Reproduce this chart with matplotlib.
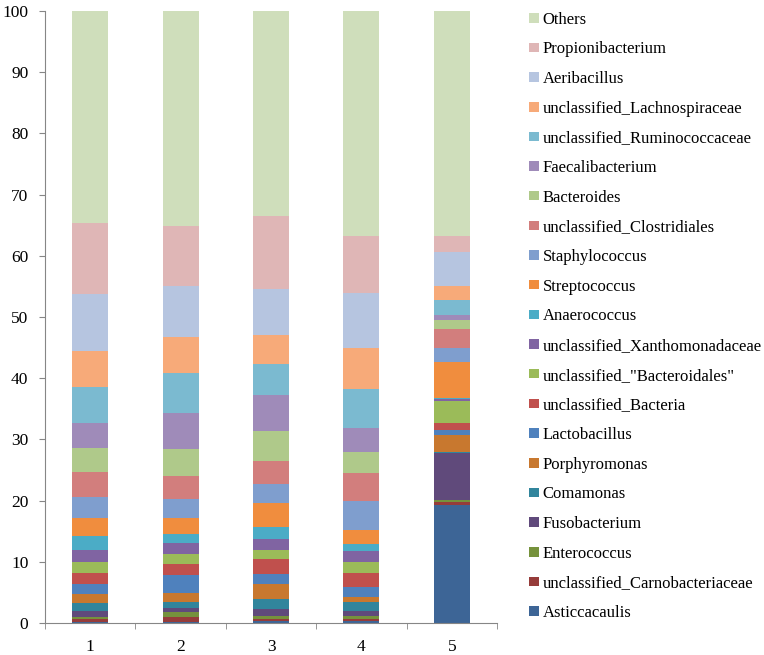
import numpy as np
import matplotlib
matplotlib.use("Agg")
import matplotlib.pyplot as plt

plt.rcParams['font.family'] = ['Liberation Serif', 'DejaVu Serif']

# サンプル
samples = ["1", "2", "3", "4", "5"]

# 分類群（下から順に積み上げ）
taxa = [
    "Asticcacaulis", "unclassified_Carnobacteriaceae", "Enterococcus",
    "Fusobacterium", "Comamonas", "Porphyromonas", "Lactobacillus",
    "unclassified_Bacteria", 'unclassified_"Bacteroidales"',
    "unclassified_Xanthomonadaceae", "Anaerococcus", "Streptococcus",
    "Staphylococcus", "unclassified_Clostridiales", "Bacteroides",
    "Faecalibacterium", "unclassified_Ruminococcaceae",
    "unclassified_Lachnospiraceae", "Aeribacillus", "Propionibacterium",
    "Others",
]

# 相対存在量 (%) 各列 = サンプル1..5
asticcacaulis = [0.2, 0.1, 0.4, 0.3, 19.2]
carnobacteriaceae = [0.4, 0.8, 0.3, 0.4, 0.5]
enterococcus = [0.4, 0.9, 0.4, 0.4, 0.4]
fusobacterium = [0.9, 0.6, 1.2, 0.9, 7.7]
comamonas = [1.3, 1.1, 1.7, 1.4, 0.1]
porphyromonas = [1.5, 1.4, 2.3, 0.9, 2.9]
lactobacillus = [1.6, 2.9, 1.7, 1.6, 0.7]
bacteria = [1.8, 1.8, 2.5, 2.2, 1.1]
bacteroidales = [1.9, 1.6, 1.5, 1.9, 3.7]
xanthomonadaceae = [2.0, 1.8, 1.8, 1.7, 0.3]
anaerococcus = [2.2, 1.5, 1.9, 1.2, 0.2]
streptococcus = [3.0, 2.7, 3.9, 2.3, 5.9]
staphylococcus = [3.4, 3.1, 3.1, 4.8, 2.2]
clostridiales = [4.0, 3.8, 3.7, 4.5, 3.2]
bacteroides = [4.0, 4.3, 4.9, 3.5, 1.4]
faecalibacterium = [4.1, 5.9, 5.9, 3.8, 0.9]
ruminococcaceae = [5.8, 6.5, 5.2, 6.5, 2.4]
lachnospiraceae = [6.0, 6.0, 4.7, 6.7, 2.3]
aeribacillus = [9.3, 8.3, 7.5, 9.0, 5.5]
propionibacterium = [11.5, 9.8, 11.9, 9.2, 2.7]
others = [34.7, 35.1, 33.5, 36.8, 36.7]

values = [
    asticcacaulis, carnobacteriaceae, enterococcus, fusobacterium, comamonas,
    porphyromonas, lactobacillus, bacteria, bacteroidales, xanthomonadaceae,
    anaerococcus, streptococcus, staphylococcus, clostridiales, bacteroides,
    faecalibacterium, ruminococcaceae, lachnospiraceae, aeribacillus,
    propionibacterium, others,
]

colors = [
    "#3D6596", "#963C3A", "#76923C", "#604A7B", "#31859C", "#C8782F",
    "#4F81BD", "#C0504D", "#9BBB59", "#8064A2", "#4BACC6", "#F08D3E",
    "#7F9ECE", "#D27E7D", "#AFC98A", "#9F8BB9", "#7BBAD0", "#F7AA79",
    "#B6C5E0", "#DFB6B6", "#CFDEBB",
]

fig = plt.figure(figsize=(7.64, 6.55), dpi=100)
ax = fig.add_axes([45 / 764, 32 / 655, 452 / 764, 612 / 655])

x = np.arange(len(samples))
bottom = np.zeros(len(samples))
handles = []
for name, vals, c in zip(taxa, values, colors):
    vals = np.array(vals)
    b = ax.bar(x, vals, 0.4, bottom=bottom, color=c, label=name, linewidth=0)
    handles.append(b)
    bottom += vals

ax.set_xlim(-0.5, 4.5)
ax.set_ylim(0, 100)
ax.set_yticks(np.arange(0, 101, 10))
ax.set_xticks(x)
ax.set_xticklabels(samples)
# カテゴリ境界の目盛り
ax.set_xticks(np.arange(-0.5, 4.6, 1), minor=True)
ax.tick_params(axis="x", which="major", length=0, labelsize=12.5, pad=11.5)
ax.tick_params(axis="x", which="minor", length=4, color="#868686")
ax.tick_params(axis="y", length=4, color="#868686", labelsize=12.5, pad=8)
for s in ["top", "right"]:
    ax.spines[s].set_visible(False)
for s in ["left", "bottom"]:
    ax.spines[s].set_color("#868686")

# 凡例（上から Others）
fig.legend(handles[::-1], taxa[::-1], loc="upper left",
           bbox_to_anchor=(522 / 764, 1 - 5 / 655), frameon=False,
           fontsize=12, handlelength=0.6, handleheight=0.5,
           handletextpad=0.25, labelspacing=0.82, borderaxespad=0)

fig.savefig("out.png", dpi=100)
